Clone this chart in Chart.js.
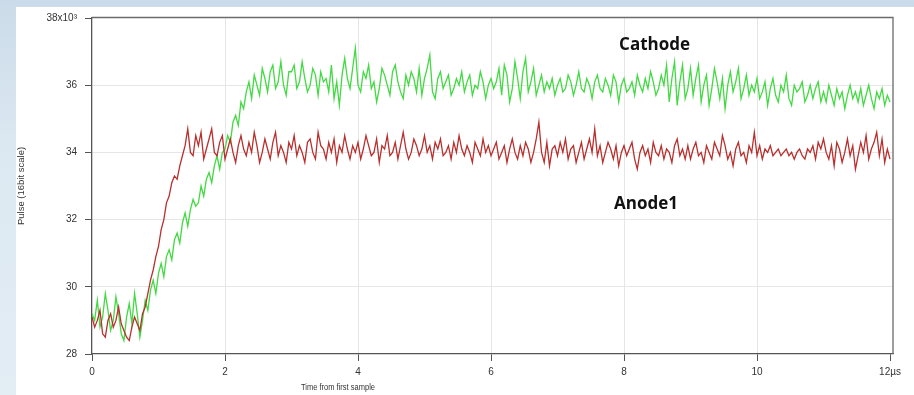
<!DOCTYPE html>
<html>
<head>
<meta charset="utf-8">
<script src="https://cdn.jsdelivr.net/npm/chart.js@4.4.1/dist/chart.umd.min.js"></script>
<style>
  html, body { margin: 0; padding: 0; }
  body {
    width: 914px; height: 395px; overflow: hidden; position: relative;
    background: linear-gradient(to bottom, #cbdbe9, #dde9f2 40%, #e2edf4);
  }
  .panel { position: absolute; left: 16px; top: 7px; right: 0; bottom: 0; background: #fff; }
  #pulseChart { position: absolute; left: 0; top: 0; }
</style>
</head>
<body>
<div class="panel"></div>
<canvas id="pulseChart" width="914" height="395"></canvas>
<script>
// sample period of the digitiser, microseconds
const SAMPLE_STEP = 0.04;

// pulse heights in units of 10^3 counts, one row per microsecond
const cathode = [
  29.2, 29.0, 29.6, 28.8, 29.1, 29.8, 29.3, 28.7, 29.0, 29.7, 29.2, 28.6, 28.4, 29.1, 29.5, 28.9, 29.8, 29.2, 28.5, 29.0, 29.6, 29.3, 29.9, 30.2, 29.8,
  30.4, 30.7, 30.3, 30.9, 31.1, 30.8, 31.4, 31.6, 31.3, 31.9, 32.2, 31.8, 32.3, 32.6, 32.4, 32.5, 33.0, 32.7, 33.2, 33.4, 33.1, 33.6, 33.9, 33.5, 34.0,
  34.1, 34.5, 34.3, 34.9, 35.1, 34.8, 35.5, 35.3, 35.8, 36.1, 35.6, 36.3, 36.0, 35.7, 36.5, 36.2, 35.8, 36.4, 36.6, 35.9, 36.1, 36.7, 36.0, 35.7, 36.4,
  36.4, 36.6, 35.9, 36.1, 36.7, 36.2, 35.8, 36.0, 36.5, 36.3, 35.7, 36.4, 36.1, 36.2, 35.8, 36.6, 35.6, 36.1, 35.4, 36.3, 36.8, 36.2, 35.9, 36.5, 37.1,
  36.0, 35.8, 36.4, 36.2, 36.6, 35.9, 36.1, 35.5, 35.9, 36.5, 36.3, 36.0, 35.7, 36.4, 36.6, 36.1, 35.8, 35.6, 36.3, 36.0, 36.4, 36.2, 35.8, 36.5, 35.7,
  36.2, 36.5, 36.9, 35.8, 35.6, 36.2, 36.4, 35.9, 36.1, 36.3, 35.7, 35.9, 36.2, 36.0, 36.4, 35.8, 36.1, 36.3, 35.7, 36.0, 35.9, 36.4, 36.1, 35.6, 36.0,
  36.2, 35.9, 36.1, 36.5, 35.7, 36.6, 36.3, 35.5, 35.9, 36.7, 36.2, 35.6, 36.4, 36.8, 35.8, 36.1, 36.5, 35.7, 36.0, 36.3, 35.8, 36.1, 35.9, 36.2, 35.7,
  36.0, 36.2, 35.8, 35.9, 36.3, 36.1, 35.7, 36.0, 36.4, 35.9, 35.8, 36.2, 36.0, 35.6, 36.1, 36.3, 35.9, 35.8, 36.2, 36.0, 35.7, 36.3, 36.1, 35.5, 36.0,
  36.2, 35.8, 35.9, 36.1, 35.7, 36.3, 36.0, 35.8, 36.2, 35.9, 36.4, 36.1, 35.7, 35.9, 36.3, 36.0, 36.6, 35.5, 36.2, 36.7, 35.4, 36.1, 36.6, 35.6, 35.9,
  36.5, 35.7, 36.2, 36.6, 35.5, 36.0, 36.3, 35.4, 35.9, 36.5, 36.1, 35.6, 36.2, 35.3, 36.0, 36.4, 35.8, 36.1, 36.5, 35.6, 35.9, 36.3, 35.7, 36.0, 35.8,
  36.2, 35.6, 35.8, 36.1, 35.4, 35.9, 36.2, 35.7, 35.5, 36.0, 35.8, 36.3, 35.6, 35.4, 36.0, 35.8, 35.9, 36.1, 35.5, 35.7, 36.0, 35.6, 35.9, 36.1, 35.5,
  35.8, 35.5, 36.0, 35.7, 35.4, 35.9, 35.6, 35.8, 35.3, 35.7, 36.0, 35.6, 35.8, 35.5, 35.9, 35.4, 35.7, 36.0, 35.6, 35.3, 35.8, 35.6, 35.9, 35.4, 35.7, 35.5
];

const anode1 = [
  29.1, 28.8, 29.0, 29.3, 28.6, 28.5, 29.0, 29.2, 28.8, 29.0, 29.4, 28.9, 28.7, 28.5, 28.4, 28.8, 29.1, 28.9, 28.7, 29.2, 29.4, 29.8, 30.2, 30.5, 30.9,
  31.2, 31.7, 32.0, 32.5, 32.7, 33.1, 33.3, 33.2, 33.6, 33.9, 34.2, 34.7, 34.0, 33.9, 34.5, 34.2, 34.6, 33.8, 34.1, 34.4, 34.7, 34.0, 33.9, 34.3, 34.5,
  33.8, 34.1, 34.4, 34.0, 33.7, 34.2, 34.5, 34.1, 33.9, 34.3, 34.0, 34.6, 34.2, 33.7, 34.0, 34.4, 34.1, 33.8, 34.3, 34.6, 33.9, 34.2, 34.0, 33.7, 34.3,
  34.1, 34.5, 33.9, 34.2, 34.0, 33.7, 34.3, 34.4, 34.0, 33.8, 34.6, 34.2, 34.1, 33.8, 34.3, 34.0, 34.4, 33.7, 34.2, 34.0, 34.5, 34.1, 33.8, 34.2, 34.0,
  34.3, 33.8, 34.1, 34.5, 34.2, 33.9, 34.0, 34.4, 33.7, 34.2, 34.1, 34.5, 33.9, 34.0, 34.3, 33.8, 34.2, 34.6, 34.1, 33.8, 34.0, 34.4, 34.2, 33.9, 34.1,
  34.5, 34.0, 34.2, 33.8, 34.3, 34.1, 34.4, 33.9, 34.0, 34.2, 33.8, 34.3, 34.0, 34.5, 34.1, 33.9, 34.2, 34.0, 33.7, 34.3, 34.1, 33.9, 34.4, 34.0, 34.2,
  33.9, 34.1, 34.3, 33.8, 34.0, 34.2, 33.7, 34.1, 34.4, 34.0, 33.8, 34.2, 33.9, 34.3, 34.1, 33.7, 34.0, 34.4, 34.9, 34.0, 33.7, 34.3, 33.6, 34.1, 34.2,
  33.9, 34.3, 34.0, 34.4, 33.8, 34.1, 34.2, 33.7, 34.0, 34.3, 33.8, 34.1, 34.4, 34.0, 34.7, 33.9, 34.2, 33.7, 34.0, 34.3, 34.1, 33.8, 34.2, 33.6, 34.0,
  34.2, 33.9, 34.1, 34.3, 33.8, 33.5, 34.0, 34.2, 33.9, 34.1, 33.7, 34.3, 34.0, 33.9, 34.2, 33.8, 34.1, 34.0, 33.7, 34.2, 34.4, 33.9, 34.1, 33.8, 34.2,
  33.8, 34.1, 34.3, 33.9, 34.0, 33.7, 34.2, 34.0, 33.8, 34.3, 34.1, 33.9, 34.5, 34.2, 33.8, 34.0, 33.6, 34.1, 34.3, 33.9, 34.0, 33.7, 34.2, 34.0, 34.6,
  33.9, 34.2, 33.8, 34.1, 34.0, 34.2, 33.9, 34.0, 34.1, 33.9, 34.0, 34.1, 33.9, 34.0, 33.8, 34.0, 34.1, 33.9, 33.8, 34.1, 34.0, 34.2, 33.8, 34.3, 34.1,
  34.4, 34.0, 33.8, 34.2, 33.6, 34.3, 34.1, 33.7, 34.0, 34.4, 33.9, 34.2, 33.5, 33.9, 34.3, 34.0, 34.5, 33.8, 34.1, 34.3, 34.6, 33.9, 34.4, 33.7, 34.1, 33.8
];

const xTicks = [0, 2, 4, 6, 8, 10, 12];
const xTickLabels = ['0', '2', '4', '6', '8', '10', '12µs'];
const yTicks = [28, 30, 32, 34, 36, 38];
const yTickLabels = ['28', '30', '32', '34', '36', '38x10³'];

const traceLabels = [
  { text: 'Cathode', t: 8.46, v: 37.2 },
  { text: 'Anode1', t: 8.33, v: 32.45 }
];

const timeUs = cathode.map((_, i) => +(i * SAMPLE_STEP).toFixed(2));
const toPoints = (values) => values.map((v, i) => ({ x: timeUs[i], y: v }));

const tickFont = { family: 'Arial, "Liberation Sans", sans-serif', size: 10 };
const gridColor = (edgeValues) => (c) =>
  edgeValues.includes(c.tick && c.tick.value) ? 'rgba(0,0,0,0)' : '#e6e6e6';

// box around the plot plus the free-floating labels
const decorations = {
  id: 'decorations',
  afterDraw(chart) {
    const { ctx, chartArea: a, scales } = chart;
    ctx.save();
    ctx.strokeStyle = '#6b6b6b';
    ctx.lineWidth = 1.3;
    ctx.beginPath();
    ctx.moveTo(a.left, a.top - 0.5);
    ctx.lineTo(a.right, a.top - 0.5);
    ctx.lineTo(a.right, a.bottom);
    ctx.stroke();

    ctx.fillStyle = '#111';
    ctx.font = 'bold 17px "Open Sans", sans-serif';
    ctx.textAlign = 'center';
    ctx.textBaseline = 'middle';
    traceLabels.forEach((l) => {
      ctx.fillText(l.text, scales.x.getPixelForValue(l.t), scales.y.getPixelForValue(l.v));
    });

    // x axis title, set in a condensed face
    ctx.fillStyle = '#333';
    ctx.font = '9.5px Arial, "Liberation Sans", sans-serif';
    ctx.translate(338, 387);
    ctx.scale(0.79, 1);
    ctx.fillText('Time from first sample', 0, 0);
    ctx.restore();
  }
};

new Chart(document.getElementById('pulseChart'), {
  type: 'line',
  data: {
    datasets: [
      { label: 'Anode1', data: toPoints(anode1), borderColor: '#b8302e', borderWidth: 1.3 },
      { label: 'Cathode', data: toPoints(cathode), borderColor: '#42da42', borderWidth: 1.3 }
    ]
  },
  options: {
    responsive: false,
    animation: false,
    devicePixelRatio: 1,
    layout: { padding: { top: 18, right: 21, bottom: 0, left: 0 } },
    elements: { point: { radius: 0 }, line: { tension: 0 } },
    plugins: { legend: { display: false }, tooltip: { enabled: false } },
    scales: {
      x: {
        type: 'linear',
        min: 0,
        max: 12.045,
        afterBuildTicks: (s) => { s.ticks = xTicks.map((v) => ({ value: v })); },
        afterFit: (s) => { s.height = 41; },
        ticks: {
          font: tickFont, color: '#333', padding: 5, maxRotation: 0,
          callback: (v) => xTickLabels[xTicks.indexOf(v)]
        },
        grid: { color: gridColor([0, 12]), tickColor: '#555', tickLength: 7 },
        border: { color: '#555', width: 1.3 }
      },
      y: {
        min: 28,
        max: 38,
        afterBuildTicks: (s) => { s.ticks = yTicks.map((v) => ({ value: v })); },
        afterFit: (s) => { s.width = 92; },
        ticks: {
          font: tickFont, color: '#333', padding: 8,
          callback: (v) => yTickLabels[yTicks.indexOf(v)]
        },
        grid: { color: gridColor([28, 38]), tickColor: '#555', tickLength: 7 },
        border: { color: '#555', width: 1.3 },
        title: {
          display: true,
          text: 'Pulse (16bit scale)',
          font: { family: 'Arial, "Liberation Sans", sans-serif', size: 9.5 },
          color: '#333',
          padding: { top: 16, bottom: 0 }
        }
      }
    }
  },
  plugins: [decorations]
});
</script>
</body>
</html>
